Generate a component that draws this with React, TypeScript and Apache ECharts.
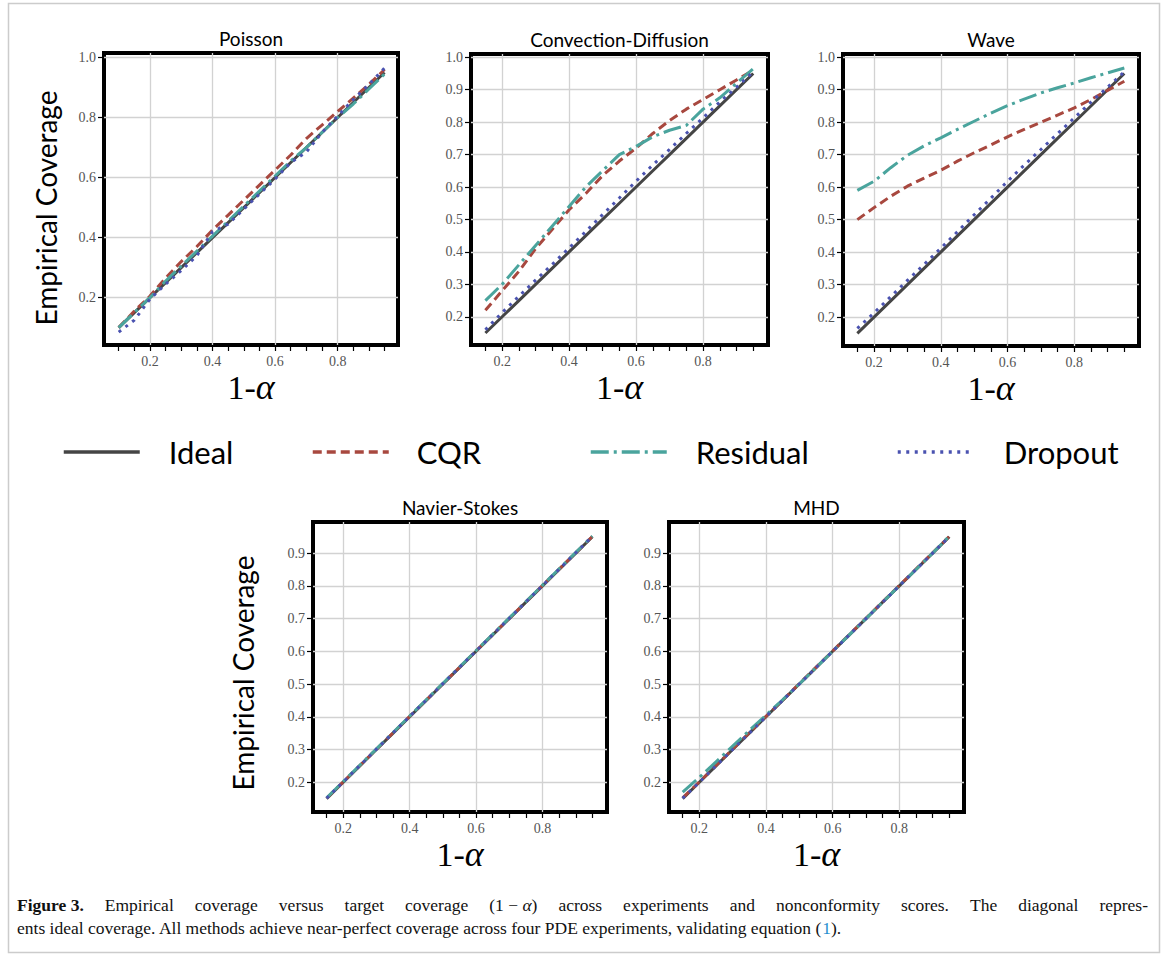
import React, { useEffect, useRef } from 'react';
import * as echarts from 'echarts';

// ---------- data ----------
const SERIES_NAMES = ['Ideal', 'CQR', 'Residual', 'Dropout'];

const X_POISSON = [0.1, 0.15, 0.2, 0.25, 0.3, 0.35, 0.4, 0.45, 0.5, 0.55, 0.6, 0.65, 0.7, 0.75, 0.8, 0.85, 0.9, 0.95];
const X_STD = [0.15, 0.2, 0.25, 0.3, 0.35, 0.4, 0.45, 0.5, 0.55, 0.6, 0.65, 0.7, 0.75, 0.8, 0.85, 0.9, 0.95];

const POISSON_IDEAL = [0.1, 0.15, 0.2, 0.25, 0.3, 0.35, 0.4, 0.45, 0.5, 0.55, 0.6, 0.65, 0.7, 0.75, 0.8, 0.85, 0.9, 0.95];
const POISSON_CQR = [0.1, 0.155, 0.205, 0.265, 0.32, 0.37, 0.425, 0.475, 0.525, 0.575, 0.625, 0.675, 0.73, 0.775, 0.82, 0.865, 0.91, 0.96];
const POISSON_RESIDUAL = [0.1, 0.15, 0.2, 0.255, 0.305, 0.355, 0.405, 0.455, 0.505, 0.555, 0.605, 0.655, 0.7, 0.75, 0.8, 0.845, 0.895, 0.945];
const POISSON_DROPOUT = [0.085, 0.125, 0.195, 0.245, 0.29, 0.34, 0.42, 0.445, 0.495, 0.545, 0.595, 0.65, 0.685, 0.75, 0.805, 0.86, 0.91, 0.965];

const STD_IDEAL = [0.15, 0.2, 0.25, 0.3, 0.35, 0.4, 0.45, 0.5, 0.55, 0.6, 0.65, 0.7, 0.75, 0.8, 0.85, 0.9, 0.95];

const CD_CQR = [0.22, 0.28, 0.34, 0.41, 0.47, 0.53, 0.58, 0.635, 0.68, 0.72, 0.765, 0.805, 0.84, 0.87, 0.9, 0.93, 0.96];
const CD_RESIDUAL = [0.25, 0.3, 0.36, 0.42, 0.48, 0.54, 0.6, 0.65, 0.7, 0.725, 0.755, 0.775, 0.79, 0.84, 0.875, 0.92, 0.965];
const CD_DROPOUT = [0.16, 0.213, 0.263, 0.313, 0.362, 0.412, 0.463, 0.515, 0.566, 0.618, 0.668, 0.716, 0.765, 0.813, 0.862, 0.908, 0.955];

const WAVE_CQR = [0.5, 0.537, 0.572, 0.603, 0.628, 0.652, 0.68, 0.706, 0.73, 0.755, 0.778, 0.8, 0.822, 0.844, 0.87, 0.898, 0.926];
const WAVE_RESIDUAL = [0.59, 0.618, 0.66, 0.698, 0.727, 0.752, 0.778, 0.803, 0.828, 0.851, 0.871, 0.89, 0.906, 0.921, 0.937, 0.952, 0.967];
const WAVE_DROPOUT = [0.165, 0.213, 0.263, 0.313, 0.362, 0.412, 0.463, 0.515, 0.566, 0.618, 0.668, 0.716, 0.765, 0.813, 0.862, 0.908, 0.955];

const NS_CQR = [0.151, 0.201, 0.251, 0.301, 0.351, 0.401, 0.451, 0.501, 0.551, 0.601, 0.651, 0.701, 0.751, 0.801, 0.851, 0.901, 0.951];
const NS_RESIDUAL = [0.152, 0.202, 0.252, 0.302, 0.352, 0.402, 0.452, 0.502, 0.552, 0.602, 0.652, 0.702, 0.752, 0.802, 0.852, 0.902, 0.952];
const NS_DROPOUT = [0.151, 0.201, 0.251, 0.301, 0.351, 0.401, 0.451, 0.501, 0.551, 0.601, 0.651, 0.701, 0.751, 0.801, 0.851, 0.901, 0.951];

const MHD_CQR = [0.152, 0.201, 0.251, 0.301, 0.351, 0.401, 0.451, 0.501, 0.551, 0.601, 0.651, 0.701, 0.751, 0.801, 0.851, 0.901, 0.951];
const MHD_RESIDUAL = [0.17, 0.215, 0.262, 0.31, 0.358, 0.405, 0.452, 0.5, 0.55, 0.6, 0.65, 0.7, 0.75, 0.8, 0.85, 0.9, 0.952];
const MHD_DROPOUT = [0.151, 0.2, 0.25, 0.3, 0.35, 0.4, 0.45, 0.5, 0.55, 0.6, 0.65, 0.7, 0.75, 0.8, 0.85, 0.9, 0.95];

const X_MAJOR_TICKS = [0.2, 0.4, 0.6, 0.8];
const X_MINOR_POISSON = [0.1, 0.15, 0.2, 0.25, 0.3, 0.35, 0.4, 0.45, 0.5, 0.55, 0.6, 0.65, 0.7, 0.75, 0.8, 0.85, 0.9, 0.95];
const X_MINOR_STD = [0.15, 0.2, 0.25, 0.3, 0.35, 0.4, 0.45, 0.5, 0.55, 0.6, 0.65, 0.7, 0.75, 0.8, 0.85, 0.9, 0.95];
const Y_TICKS_POISSON = [0.2, 0.4, 0.6, 0.8, 1.0];
const Y_TICKS_TOP = [0.2, 0.3, 0.4, 0.5, 0.6, 0.7, 0.8, 0.9, 1.0];
const Y_TICKS_BOTTOM = [0.2, 0.3, 0.4, 0.5, 0.6, 0.7, 0.8, 0.9];

const PANEL_TITLES = ['Poisson', 'Convection-Diffusion', 'Wave', 'Navier-Stokes', 'MHD'];

// caption words (line 1 is justified, line 2 is natural)
const CAPTION_LINE1 = ['{b|Figure 3.}', 'Empirical', 'coverage', 'versus', 'target', 'coverage', '(1 − {i|α})', 'across', 'experiments', 'and', 'nonconformity', 'scores.', 'The', 'diagonal', 'repres-'];
const CAPTION_LINE2 = 'ents ideal coverage. All methods achieve near-perfect coverage across four PDE experiments, validating equation ({l|1}).';

// ---------- styles ----------
const COLORS = ['#454545', '#a8483f', '#4aa49d', '#4a52b0'];
const DASHES: any[] = ['solid', [9, 5], [18, 5, 3, 5], [3, 5.5]];
const SANS = 'Lato, "Noto Sans", sans-serif';
const SERIF = '"Liberation Serif", "DejaVu Serif", serif';
const CAP_SIZE = 17.5;

const PANELS = [
  { title: PANEL_TITLES[0], x: X_POISSON, ys: [POISSON_IDEAL, POISSON_CQR, POISSON_RESIDUAL, POISSON_DROPOUT],
    grid: { left: 104, top: 53, width: 294, height: 292 }, xr: [0.053, 0.993], yr: [0.042, 1.015],
    yTicks: Y_TICKS_POISSON, xMinor: X_MINOR_POISSON, yName: 'Empirical Coverage', yGap: 44, yShift: 18 },
  { title: PANEL_TITLES[1], x: X_STD, ys: [STD_IDEAL, CD_CQR, CD_RESIDUAL, CD_DROPOUT],
    grid: { left: 471, top: 54, width: 297, height: 291 }, xr: [0.107, 0.994], yr: [0.113, 1.01],
    yTicks: Y_TICKS_TOP, xMinor: X_MINOR_STD, yName: '', yGap: 44, yShift: 0 },
  { title: PANEL_TITLES[2], x: X_STD, ys: [STD_IDEAL, WAVE_CQR, WAVE_RESIDUAL, WAVE_DROPOUT],
    grid: { left: 843, top: 54, width: 296, height: 292 }, xr: [0.107, 0.994], yr: [0.111, 1.01],
    yTicks: Y_TICKS_TOP, xMinor: X_MINOR_STD, yName: '', yGap: 44, yShift: 0 },
  { title: PANEL_TITLES[3], x: X_STD, ys: [STD_IDEAL, NS_CQR, NS_RESIDUAL, NS_DROPOUT],
    grid: { left: 313, top: 522, width: 294, height: 290 }, xr: [0.109, 0.994], yr: [0.109, 0.995],
    yTicks: Y_TICKS_BOTTOM, xMinor: X_MINOR_STD, yName: 'Empirical Coverage', yGap: 56, yShift: 12 },
  { title: PANEL_TITLES[4], x: X_STD, ys: [STD_IDEAL, MHD_CQR, MHD_RESIDUAL, MHD_DROPOUT],
    grid: { left: 669, top: 522, width: 295, height: 290 }, xr: [0.109, 0.994], yr: [0.109, 0.995],
    yTicks: Y_TICKS_BOTTOM, xMinor: X_MINOR_STD, yName: '', yGap: 44, yShift: 0 },
];

const LEGEND_LEFTS = [62, 311, 589, 896];
const LEGEND_TEXT_PAD = [24, 23, 24, 25];

let measureCtx: CanvasRenderingContext2D | null = null;
function measure(text: string, font: string) {
  if (!measureCtx) measureCtx = document.createElement('canvas').getContext('2d');
  measureCtx!.font = font;
  return measureCtx!.measureText(text).width;
}
function measureRich(word: string) {
  let w = 0;
  const re = /\{(\w)\|([^}]*)\}|([^{]+)/g;
  let m: RegExpExecArray | null;
  while ((m = re.exec(word))) {
    if (m[3] !== undefined) w += measure(m[3], `${CAP_SIZE}px ${SERIF}`);
    else if (m[1] === 'b') w += measure(m[2], `bold ${CAP_SIZE}px ${SERIF}`);
    else if (m[1] === 'i') w += measure(m[2], `italic ${CAP_SIZE}px ${SERIF}`);
    else w += measure(m[2], `${CAP_SIZE}px ${SERIF}`);
  }
  return w;
}

const CAP_RICH = {
  b: { fontWeight: 'bold', fontFamily: SERIF, fontSize: CAP_SIZE },
  i: { fontStyle: 'italic', fontFamily: SERIF, fontSize: CAP_SIZE },
  l: { fill: '#1f8fcf', color: '#1f8fcf', fontFamily: SERIF, fontSize: CAP_SIZE },
};

function captionGraphics() {
  const left = 17, right = 1148;
  const widths = CAPTION_LINE1.map(measureRich);
  const total = widths.reduce((a, b) => a + b, 0);
  const gap = (right - left - total) / (CAPTION_LINE1.length - 1);
  const out: any[] = [];
  let x = left;
  CAPTION_LINE1.forEach((w, k) => {
    out.push({
      type: 'text', silent: true, x, y: 905,
      style: { text: w, fontFamily: SERIF, fontSize: CAP_SIZE, fill: '#111', verticalAlign: 'middle', rich: CAP_RICH },
    });
    x += widths[k] + gap;
  });
  out.push({
    type: 'text', silent: true, x: left, y: 928,
    style: { text: CAPTION_LINE2, fontFamily: SERIF, fontSize: CAP_SIZE, fill: '#111', verticalAlign: 'middle', rich: CAP_RICH },
  });
  return out;
}

function buildOption() {
  const grid: any[] = [];
  const xAxis: any[] = [];
  const yAxis: any[] = [];
  const series: any[] = [];
  const title: any[] = [];

  PANELS.forEach((p, i) => {
    grid.push({
      ...p.grid,
      show: true,
      borderColor: '#000',
      borderWidth: 4,
      backgroundColor: 'transparent',
      containLabel: false,
    });
    const gridLine = { show: true, lineStyle: { color: '#d2d2d2', width: 1.3 } };
    xAxis.push({
      type: 'value', gridIndex: i, min: p.xr[0], max: p.xr[1], position: 'bottom',
      axisLine: { show: false },
      axisTick: { show: false, customValues: X_MAJOR_TICKS },
      axisLabel: {
        customValues: X_MAJOR_TICKS, margin: 9, fontSize: 14, color: '#555', fontFamily: SERIF,
        formatter: (v: number) => v.toFixed(1),
      },
      splitLine: gridLine,
      name: '{n|1-}{a|α}',
      nameLocation: 'middle',
      nameGap: 24,
      nameTextStyle: {
        rich: {
          n: { fontFamily: SERIF, fontSize: 34, color: '#000' },
          a: { fontFamily: SERIF, fontSize: 36, fontStyle: 'italic', color: '#000' },
        },
      },
    });
    xAxis.push({
      type: 'value', gridIndex: i, min: p.xr[0], max: p.xr[1], position: 'bottom', offset: 0,
      axisLine: { show: false },
      axisTick: { show: true, customValues: p.xMinor, length: 6, lineStyle: { color: '#000', width: 1.2 } },
      axisLabel: { show: false },
      splitLine: { show: false },
    });
    yAxis.push({
      type: 'value', gridIndex: i, min: p.yr[0], max: p.yr[1],
      axisLine: { show: false },
      axisTick: { show: true, customValues: p.yTicks, length: 6, lineStyle: { color: '#000', width: 1.2 } },
      axisLabel: {
        customValues: p.yTicks, margin: 8, fontSize: 14, color: '#555', fontFamily: SERIF,
        formatter: (v: number) => v.toFixed(1),
      },
      splitLine: gridLine,
      name: p.yName,
      nameLocation: 'middle',
      nameGap: p.yGap,
      nameRotate: 90,
      nameTextStyle: { fontFamily: SANS, fontSize: 28, color: '#000', padding: [0, p.yShift, 0, 0] },
    });
    SERIES_NAMES.forEach((name, k) => {
      series.push({
        type: 'line', name, xAxisIndex: 2 * i, yAxisIndex: i,
        data: p.x.map((xv, j) => [xv, p.ys[k][j]]),
        symbol: 'none', silent: true,
        color: COLORS[k],
        lineStyle: { color: COLORS[k], width: 3, type: DASHES[k] },
        z: 3 + k,
      });
    });
    title.push({
      text: p.title,
      left: p.grid.left + p.grid.width / 2,
      top: p.grid.top - 24,
      textAlign: 'center',
      padding: 0,
      textStyle: { fontFamily: SANS, fontSize: 19, fontWeight: 'normal', color: '#000' },
    });
  });

  const legend = SERIES_NAMES.map((name, k) => ({
    show: true,
    data: [name],
    left: LEGEND_LEFTS[k],
    top: 434,
    padding: 0,
    itemWidth: 76,
    itemHeight: 14,
    itemGap: 0,
    selectedMode: false,
    itemStyle: { opacity: 0, color: 'transparent', borderWidth: 0 },
    lineStyle: { width: 3.5 },
    textStyle: { fontFamily: SANS, fontSize: 31, color: '#000', lineHeight: 36, padding: [0, 0, 0, LEGEND_TEXT_PAD[k]] },
  }));

  const graphic = [
    {
      type: 'rect', silent: true, z: -10,
      shape: { x: 8.5, y: 3.5, width: 1151, height: 949 },
      style: { fill: 'none', stroke: '#cccccc', lineWidth: 1.5 },
    },
    ...captionGraphics(),
  ];

  return {
    animation: false,
    backgroundColor: '#fff',
    title, grid, xAxis, yAxis, series, legend, graphic,
  };
}

export default function App() {
  const ref = useRef<HTMLDivElement>(null);
  useEffect(() => {
    document.body.style.margin = '0';
    const chart = echarts.init(ref.current as HTMLDivElement, null, { renderer: 'svg' });
    chart.setOption(buildOption() as any);
    return () => chart.dispose();
  }, []);
  return <div ref={ref} style={{ width: 1167, height: 957 }} />;
}
